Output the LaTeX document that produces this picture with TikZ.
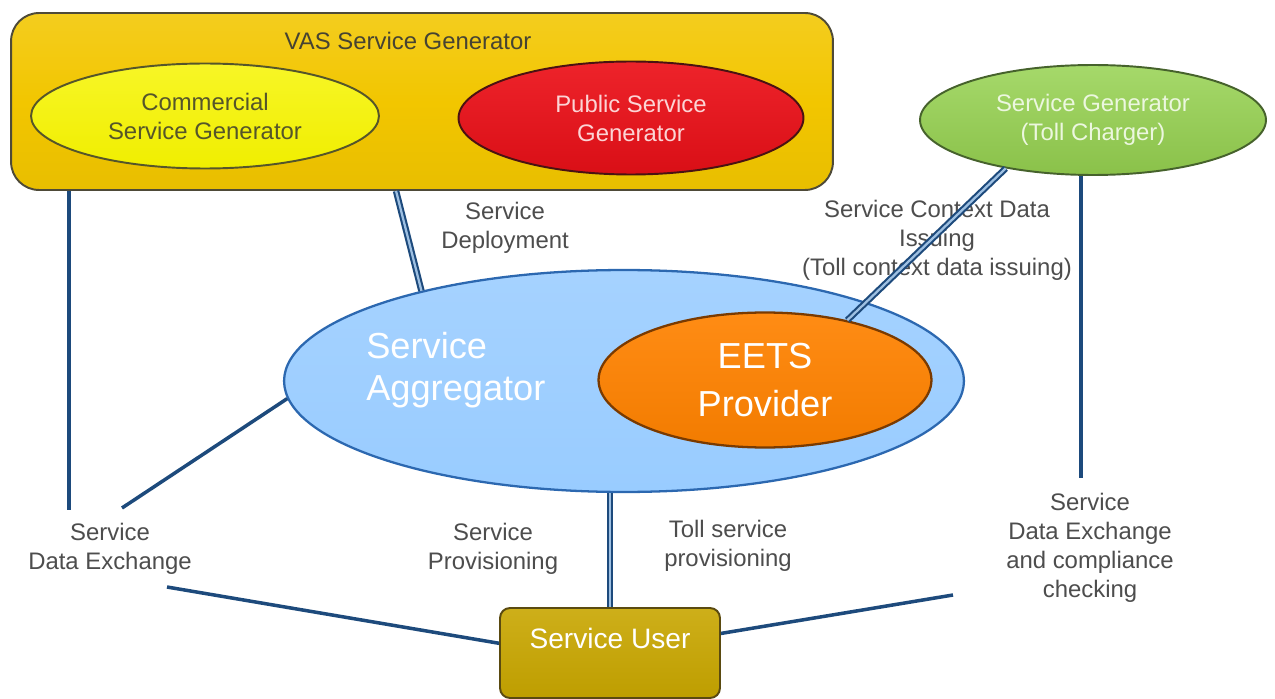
\documentclass[tikz,border=0pt]{standalone}
\usepackage{fontspec}
\setmainfont{Liberation Sans}
\usetikzlibrary{shapes.geometric}

\definecolor{vasgold}{HTML}{F2C600}
\definecolor{vasedge}{HTML}{4E4A38}
\definecolor{comyellow}{HTML}{F6F400}
\definecolor{comedge}{HTML}{55552A}
\definecolor{pubred}{HTML}{EC1018}
\definecolor{pubedge}{HTML}{4A1212}
\definecolor{tollgreen}{HTML}{96D250}
\definecolor{tolledge}{HTML}{46622C}
\definecolor{aggblue}{HTML}{99CCFF}
\definecolor{aggedge}{HTML}{2C68B0}
\definecolor{eetsorange}{HTML}{FF8200}
\definecolor{eetsedge}{HTML}{7A3A00}
\definecolor{usergold}{HTML}{C8A600}
\definecolor{useredge}{HTML}{5A4A10}
\definecolor{linkblue}{HTML}{1D4A7C}
\definecolor{linkfill}{HTML}{9EC0E2}
\definecolor{labelgray}{HTML}{4D4D4D}

\begin{document}
\begin{tikzpicture}[x=0.02cm, y=-0.02cm,
  basefont/.style={font=\fontsize{13.6}{16.5}\selectfont},
  bigfont/.style={font=\fontsize{20.6}{24}\selectfont},
  lbl/.style={basefont, text=labelgray, align=center, inner sep=0pt},
  oval/.style={ellipse, inner sep=0pt, line width=1.1pt, align=center, basefont},
  link/.style={draw=linkblue, line width=2pt},
  dbl/.style={draw=linkblue, line width=1.2pt, double=linkfill, double distance=1.3pt}
]
\fill[white] (0,0) rectangle (1275,699);
\useasboundingbox (0,0) rectangle (1275,699);

% VAS service generator group
\node[draw=vasedge, line width=1.1pt, rounded corners=0.56cm,
      top color=vasgold!88!white, bottom color=vasgold!96!black, middle color=vasgold,
      minimum width=16.44cm, minimum height=3.54cm, inner sep=0pt] (vas) at (422,101.5) {};
\node[lbl, text=vasedge!90!black] (vastitle) at (408,41) {VAS Service Generator};

\node[oval, draw=comedge, top color=comyellow!85!white, bottom color=comyellow!95!olive,
      text=comedge, minimum width=6.96cm, minimum height=2.1cm] (com) at (205,116)
      {Commercial\\Service Generator};
\node[oval, draw=pubedge, top color=pubred!92!white, bottom color=pubred!92!black,
      text=pubred!18!white, minimum width=6.9cm, minimum height=2.26cm] (pub) at (631,118)
      {Public Service\\Generator};

% Toll charger
\node[oval, draw=tolledge, top color=tollgreen!85!white, bottom color=tollgreen!92!black,
      text=tollgreen!18!white, minimum width=6.92cm, minimum height=2.2cm] (toll) at (1093,120)
      {Service Generator\\(Toll Charger)};

% Service aggregator and EETS provider
\node[ellipse, draw=aggedge, line width=1.3pt, top color=aggblue!88!white, bottom color=aggblue,
      minimum width=13.6cm, minimum height=4.44cm, inner sep=0pt] (agg) at (624,381) {};
\node[bigfont, text=white, align=left, inner sep=0pt, anchor=west] (aggtxt) at (366,370)
      {Service\\Aggregator};
\node[ellipse, draw=eetsedge, line width=1.3pt, top color=eetsorange!92!white, bottom color=eetsorange!95!black,
      minimum width=6.66cm, minimum height=2.7cm, inner sep=0pt, align=center,
      font=\fontsize{20.6}{27.8}\selectfont, text=white] (eets) at (765,380)
      {EETS\\Provider};

% Service user
\node[draw=useredge, line width=1.1pt, rounded corners=0.2cm,
      top color=usergold!90!white, bottom color=usergold!95!black,
      minimum width=4.4cm, minimum height=1.8cm, inner sep=0pt] (su) at (610,653) {};
\node[font=\fontsize{16}{19}\selectfont, text=white, inner sep=0pt] (sutxt) at (610,638) {Service User};

% connector labels
\node[lbl] (deploy) at (505,228) {Service\\Deployment};
\node[lbl] (context) at (937,240) {Service Context Data\\Issuing\\(Toll context data issuing)};
\node[lbl] (dxleft) at (110,549) {Service\\Data Exchange};
\node[lbl] (prov) at (493,549) {Service\\Provisioning};
\node[lbl] (tollprov) at (728,546) {Toll service\\provisioning};
\node[lbl] (dxright) at (1090,548) {Service\\Data Exchange\\and compliance\\checking};

% free ends of the connectors
\coordinate (lv) at (69,510);
\coordinate (ld) at (122,508);
\coordinate (rv) at (1081,478);
\coordinate (lu) at (167,587);
\coordinate (ru) at (953,595);

% connectors
\draw[link] (vas.south -| lv) -- (lv);
\draw[link] (ld) -- (agg.183.8);
\draw[dbl] ([xshift=7.72cm]vas.south west) -- (agg.156.7);
\draw[dbl] (toll.209.6) -- (eets.36.9);
\draw[link] (toll.south -| rv) -- (rv);
\draw[dbl] (su.north) -- (su.north |- agg.south);
\draw[link] (lu) -- (su.175);
\draw[link] (su.10) -- (ru);
\end{tikzpicture}
\end{document}
